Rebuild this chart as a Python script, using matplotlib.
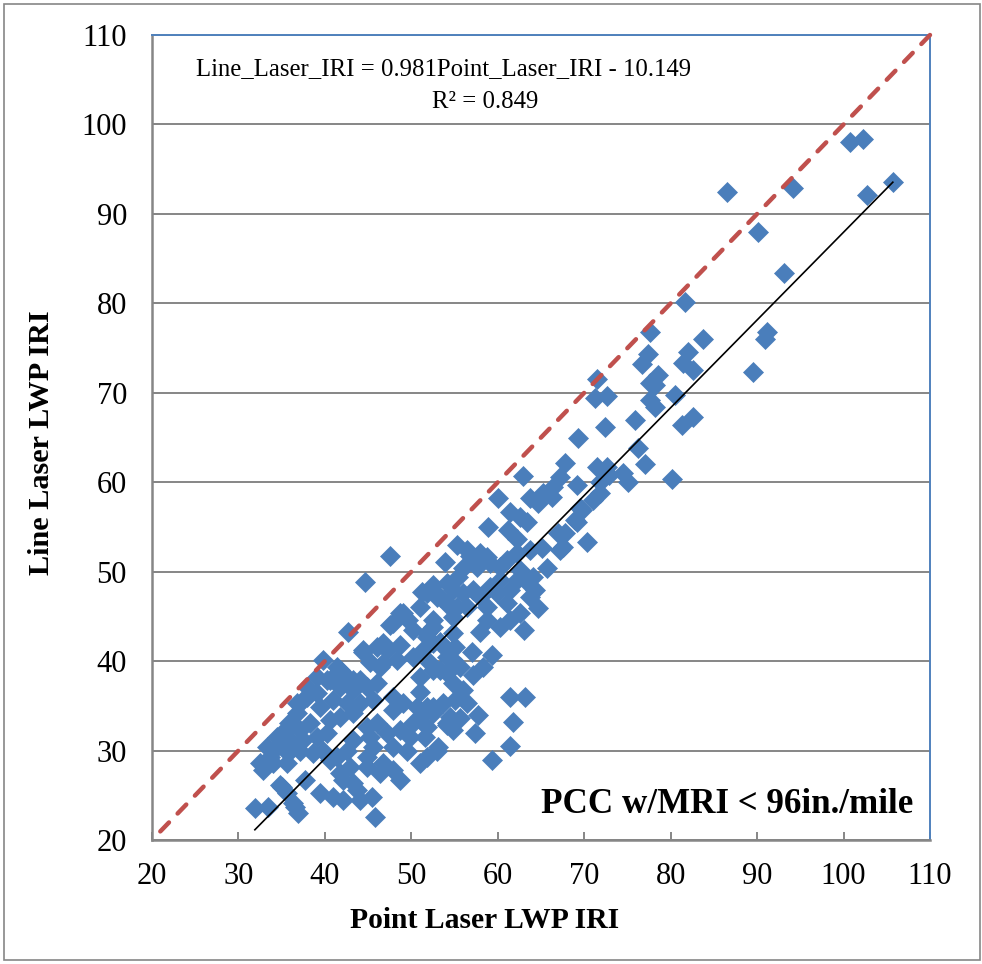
import numpy as np
import matplotlib
matplotlib.use("Agg")
import matplotlib.pyplot as plt
from matplotlib.patches import Rectangle

plt.rcParams['font.family'] = ['Liberation Serif', 'DejaVu Serif']

# Point laser IRI (x) vs line laser IRI (y)
point_iri = [
    100.75, 102.3, 86.5, 94.2, 102.7, 105.7, 90.1, 93.1,
    81.7, 77.6, 83.7, 91.1, 90.9, 82.0, 77.4, 76.7, 81.4, 82.6, 78.5, 77.6,
    78.2, 89.5, 71.5, 71.3, 72.6, 80.5, 77.6, 78.2, 72.4, 75.9, 81.3, 82.6,
    69.3, 76.2, 77.0, 71.5, 72.6, 74.5, 75.1, 67.8, 69.2, 80.2, 71.8, 72.9,
    71.0, 69.7, 68.9, 70.3, 67.8, 67.2, 67.2, 62.9, 71.8,
    60.0, 63.7, 65.2, 66.4, 66.3, 64.7, 61.4, 62.6, 63.4, 58.9, 61.2, 62.2,
    69.5, 69.2, 67.0, 67.5, 55.3, 56.4, 57.9, 58.8, 53.9, 56.8, 56.0, 57.6,
    59.1, 60.3, 61.1, 62.2, 63.7, 65.1, 62.6, 64.1, 65.7, 63.4, 64.3, 63.7,
    64.7, 62.6, 63.0, 61.4, 60.3, 58.8, 57.9, 61.1, 59.9, 58.8, 61.4, 62.2,
    60.3, 59.1, 57.1, 57.9, 56.0, 54.8, 54.1, 55.3, 56.4, 53.0, 51.8, 51.0,
    52.5, 51.8, 52.5, 57.0, 59.3, 58.3, 54.1, 54.8, 53.3, 55.6, 57.1, 52.2,
    51.0, 56.0, 56.4, 57.7, 61.4, 63.2, 55.6, 57.4, 61.8, 61.4, 59.3, 53.1,
    51.8, 52.5, 53.7, 51.0, 54.1, 51.8, 51.0, 51.6,
    47.5, 44.6, 42.7, 51.2, 52.5, 54.1, 55.4, 53.3, 54.5, 48.7, 49.6, 47.5,
    50.2, 52.5, 51.8, 53.3, 44.4, 46.0, 47.2, 48.7, 45.2, 46.7, 48.3, 50.2,
    51.4, 54.1, 52.5, 54.1, 41.4, 40.6, 42.6, 41.7, 44.1, 43.3, 44.9, 46.0,
    37.5, 39.1, 39.4, 40.9, 42.6, 44.1, 45.6, 41.7, 43.3, 40.6, 47.9, 49.0,
    47.9, 50.7, 52.5, 36.8, 38.3, 37.1, 35.6, 39.1, 40.2, 34.5, 35.2, 36.3,
    37.5, 34.0, 35.7, 37.1, 38.6, 39.8, 40.6, 32.8, 34.0, 35.6, 42.1, 43.3,
    44.9, 46.0, 47.2, 48.7, 49.8, 47.9, 49.5, 45.6, 44.9, 46.7, 47.9, 48.7,
    46.4, 44.9, 51.0, 51.8, 53.0, 50.2, 35.0, 35.6, 36.3, 31.9, 33.4, 36.5,
    36.9, 34.8, 37.7, 39.4, 40.9, 42.1, 43.7, 44.1, 45.4, 45.8, 32.5, 33.7,
    33.3, 35.0, 35.9, 37.9, 39.8, 39.1, 54.8, 54.8, 55.1, 54.8, 55.1, 54.5,
    54.8, 54.1, 45.2, 43.3, 42.6, 41.4, 42.9, 41.7,
    44.4, 46.7, 47.9, 49.0, 46.4, 41.7, 40.2, 37.9, 36.8, 43.3,
]
line_iri = [
    98.0, 98.4, 92.4, 92.9, 92.1, 93.6, 88.0, 83.4,
    80.2, 76.8, 76.0, 76.8, 76.0, 74.6, 74.3, 73.2, 73.3, 72.6, 72.0, 71.1,
    70.9, 72.3, 71.5, 69.4, 69.6, 69.75, 69.2, 68.4, 66.2, 67.0, 66.4, 67.3,
    64.9, 63.8, 62.0, 61.7, 61.7, 61.0, 60.0, 62.1, 59.7, 60.4, 60.0, 60.8,
    58.0, 56.9, 55.8, 53.3, 54.3, 52.4, 60.6, 60.7, 58.8,
    58.2, 58.2, 58.8, 59.5, 58.3, 57.7, 56.7, 56.1, 55.6, 55.0, 54.7, 53.6,
    57.1, 55.5, 54.3, 52.8, 53.0, 52.4, 52.1, 51.6, 51.1, 51.7, 50.4, 50.5,
    51.0, 50.5, 51.3, 52.1, 52.4, 52.6, 50.2, 49.4, 50.4, 48.8, 47.9, 47.2,
    45.9, 45.4, 43.5, 44.6, 43.8, 44.6, 43.3, 46.5, 47.6, 46.0, 47.9, 49.1,
    49.1, 48.3, 47.9, 47.2, 47.6, 47.9, 46.5, 46.0, 46.0, 47.2, 47.6, 46.0,
    44.6, 43.1, 42.0, 41.0, 40.7, 39.3, 41.2, 40.1, 39.0, 39.3, 38.4, 39.8,
    38.2, 36.8, 35.3, 34.0, 36.0, 36.0, 33.6, 32.0, 33.2, 30.5, 28.9, 30.4,
    34.9, 34.2, 35.3, 33.8, 32.9, 32.6, 36.5, 31.5,
    51.7, 48.8, 43.3, 47.7, 48.5, 48.7, 49.4, 47.2, 46.0, 45.4, 44.6, 44.0,
    43.5, 43.8, 42.7, 42.1, 41.2, 41.6, 41.2, 41.8, 39.9, 39.8, 40.1, 40.5,
    41.2, 40.5, 39.0, 38.7, 39.3, 37.9, 38.2, 37.1, 37.9, 36.8, 37.1, 37.5,
    35.6, 36.4, 34.9, 35.6, 35.3, 35.3, 35.6, 33.8, 34.2, 33.4, 36.0, 35.3,
    34.5, 34.9, 34.9, 34.2, 33.1, 32.3, 32.3, 31.5, 32.0, 31.5, 30.8, 30.8,
    31.2, 30.0, 29.7, 30.0, 29.7, 30.0, 28.9, 27.8, 28.6, 28.6, 26.7, 26.4,
    32.6, 33.1, 32.0, 32.3, 31.5, 30.4, 30.0, 30.4, 29.3, 28.6, 27.8, 26.7,
    27.5, 28.2, 28.6, 29.3, 30.0, 33.1, 25.9, 25.3, 24.1, 23.6, 23.7, 23.7,
    23.0, 26.2, 26.7, 25.3, 24.8, 24.5, 25.6, 24.5, 24.8, 22.6, 28.6, 29.3,
    30.4, 32.0, 33.1, 37.1, 40.1, 38.2, 44.9, 43.1, 41.6, 37.5, 35.6, 33.8,
    32.3, 33.1, 31.5, 31.2, 30.0, 29.3, 28.2, 27.5,
    41.0, 42.0, 44.3, 45.4, 39.3, 39.0, 37.9, 36.0, 35.3, 37.9,
]

# linear trendline shown on the chart
slope = 0.981
intercept = -10.149
r_squared = 0.849

# 1:1 reference line, drawn from the top corner down
equal_line = [110, 20]

ticks = [20, 30, 40, 50, 60, 70, 80, 90, 100, 110]

fig = plt.figure(figsize=(9.82, 9.64), dpi=100)
ax = fig.add_axes([152 / 982, 1 - 840 / 964, 778 / 982, 805 / 964])

grid_col = '#868686'
ax.set_xlim(20, 110)
ax.set_ylim(20, 110)
ax.set_xticks(ticks)
ax.set_yticks(ticks)
ax.yaxis.grid(True, color=grid_col, linewidth=1.4)
ax.set_axisbelow(True)

ax.plot(equal_line, equal_line, color='#C0504D', linewidth=3.2,
        dashes=(2.8, 2.8), dash_capstyle='round', zorder=3, clip_on=False)

ax.plot(point_iri, line_iri, linestyle='none', marker='D', markersize=10.5,
        color='#4A7EBB', markeredgecolor='#4A7EBB', markeredgewidth=0.5, zorder=2)

x_fit = np.array([min(point_iri), max(point_iri)])
ax.plot(x_fit, slope * x_fit + intercept, color='black', linewidth=1.2, zorder=4)

for side in ['left', 'bottom']:
    ax.spines[side].set_color(grid_col)
    ax.spines[side].set_linewidth(1.8)
for side in ['top', 'right']:
    ax.spines[side].set_color('#4F81BD')
    ax.spines[side].set_linewidth(1.4)

ax.tick_params(direction='in', length=6, width=1.4, color=grid_col,
               labelsize=22, pad=16)
ax.tick_params(axis='y', pad=18)

ax.set_xlabel('Point Laser LWP IRI', fontsize=21.3, fontweight='bold', va='center')
ax.xaxis.set_label_coords((485 - 152) / 778, (840 - 921) / 805)
ax.set_ylabel('Line Laser LWP IRI', fontsize=21.8, fontweight='bold',
              va='center', ha='center')
ax.yaxis.set_label_coords((42 - 152) / 778, (840 - 443) / 805)

# trendline equation, two lines placed like the Excel label
ax.text((444 - 152) / 778, (840 - 69) / 805,
        'Line_Laser_IRI = %.3fPoint_Laser_IRI - %.3f' % (slope, -intercept),
        transform=ax.transAxes, ha='center', va='center', fontsize=17.8)
ax.text((485 - 152) / 778, (840 - 102) / 805, 'R² = %.3f' % r_squared,
        transform=ax.transAxes, ha='center', va='center', fontsize=17.8)
ax.text(0.739, 0.0435, 'PCC w/MRI < 96in./mile', transform=ax.transAxes,
        ha='center', va='center', fontsize=25.2, fontweight='bold')

fig.patches.append(Rectangle((4 / 982, 4 / 964), 976 / 982, 956 / 964,
                             transform=fig.transFigure, fill=False,
                             edgecolor=grid_col, linewidth=1.2))

fig.savefig('out.png', dpi=100)
